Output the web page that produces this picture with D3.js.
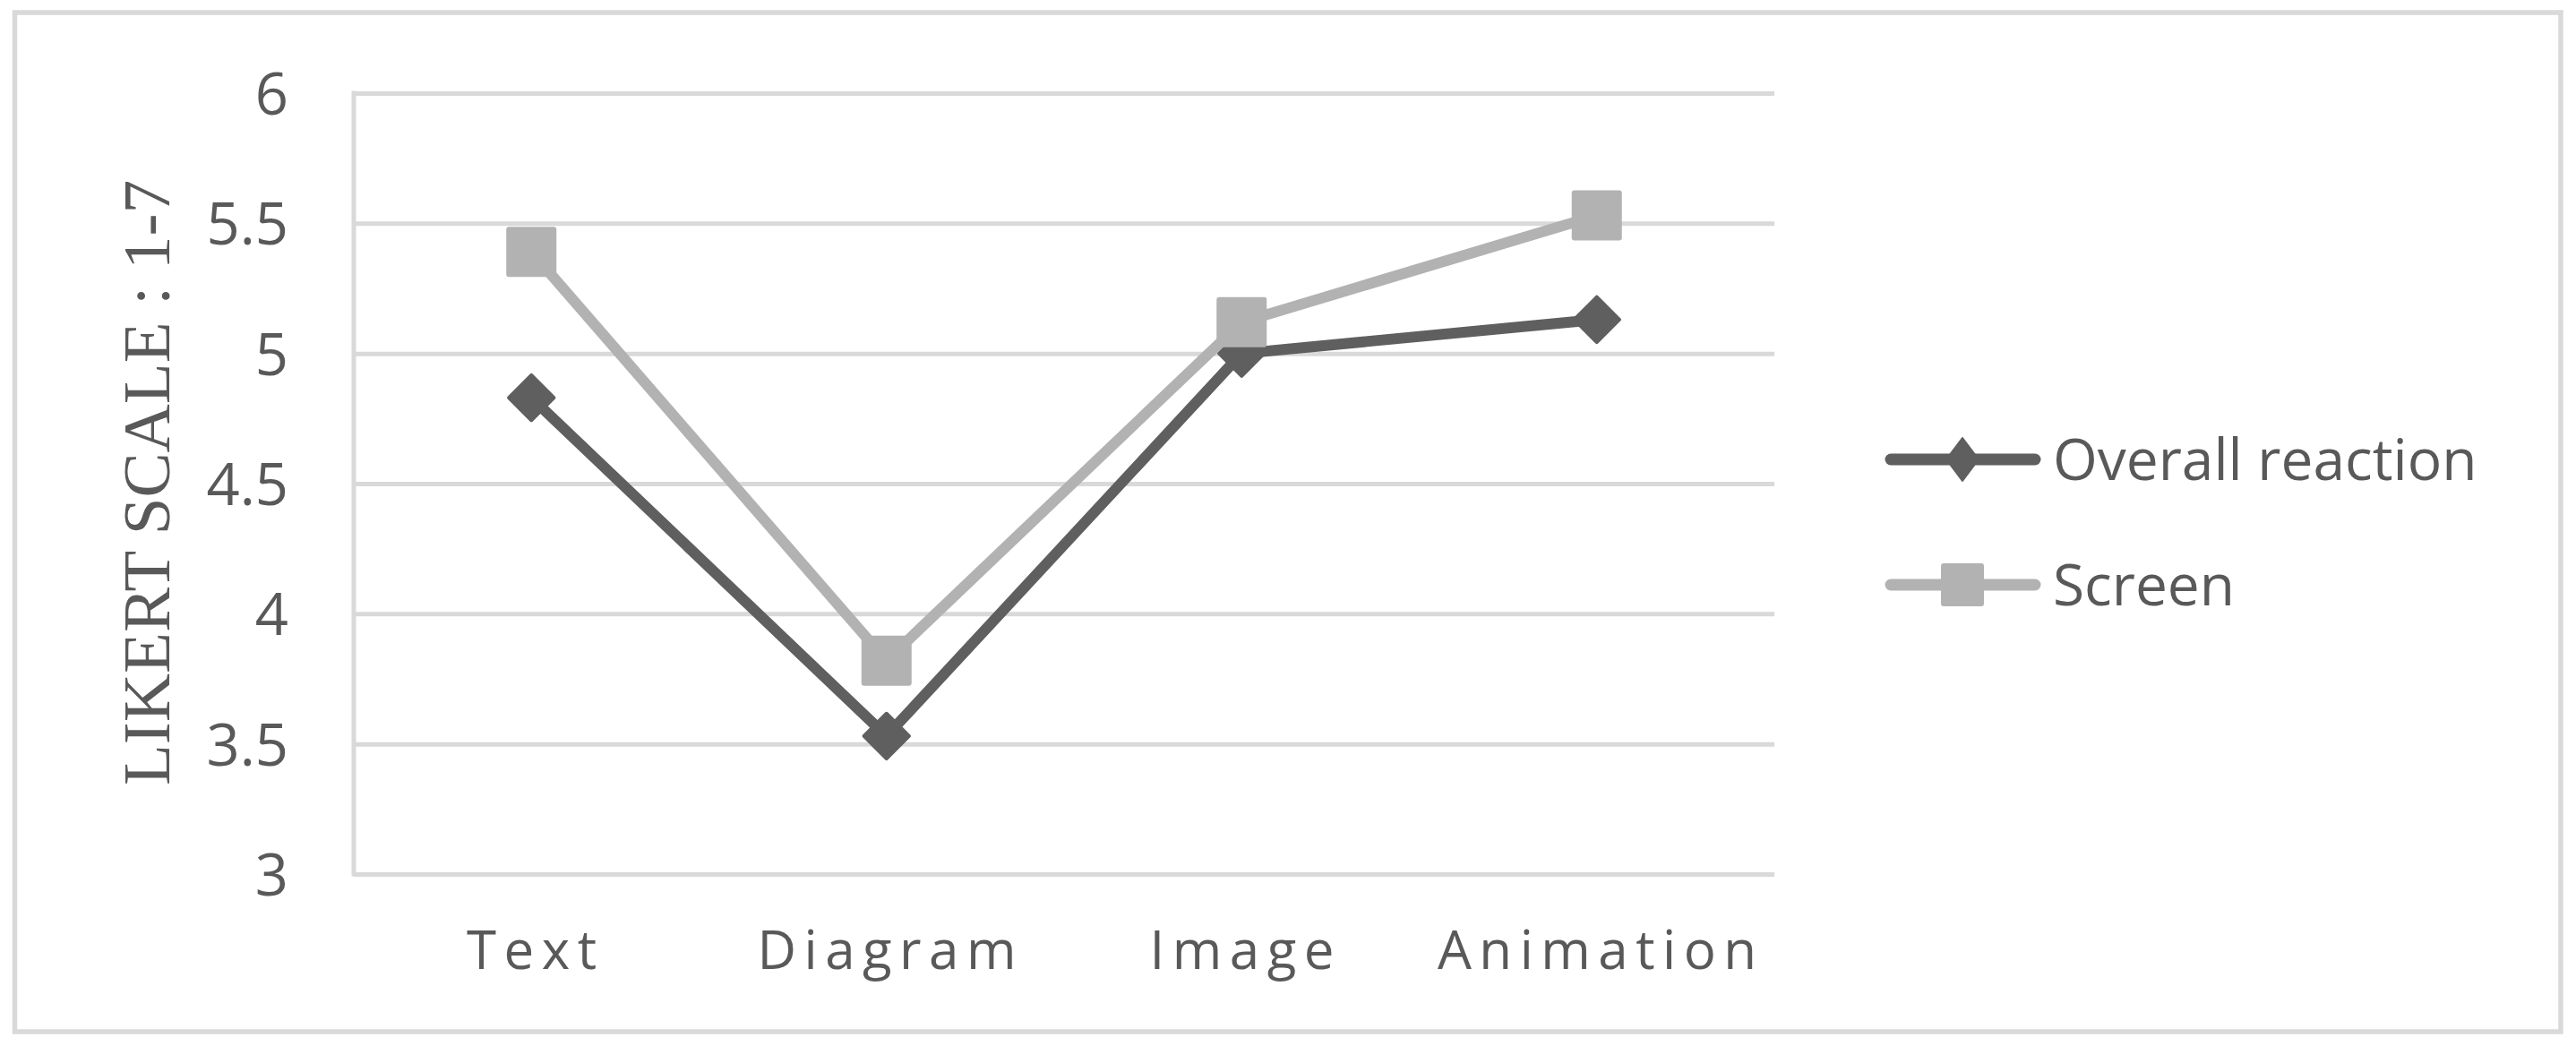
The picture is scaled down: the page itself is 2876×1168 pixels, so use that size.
<!DOCTYPE html>
<html>
<head>
<meta charset="utf-8">
<script src="https://cdn.jsdelivr.net/npm/d3@7"></script>
<style>
  html, body { margin: 0; padding: 0; background: #fff; }
  svg { display: block; }
</style>
</head>
<body>
<svg width="2876" height="1168"></svg>
<script>
const categories = ['Text', 'Diagram', 'Image', 'Animation'];
const overallReaction = [4.83, 3.53, 5.0, 5.13];
const screenValues = [5.39, 3.82, 5.12, 5.53];
const yTicks = [3, 3.5, 4, 4.5, 5, 5.5, 6];
const seriesNames = ['Overall reaction', 'Screen'];

const svg = d3.select('svg');
const textColor = '#595959';
const gridColor = '#d9d9d9';
const darkColor = '#5f5f5f';
const lightColor = '#b2b2b2';

// outer chart border
svg.append('rect')
  .attr('x', 16.5).attr('y', 14)
  .attr('width', 2842.5).attr('height', 1138)
  .attr('fill', '#fff')
  .attr('stroke', gridColor)
  .attr('stroke-width', 5.5);

const plotLeft = 395, plotRight = 1981, plotTop = 104, plotBottom = 976;
const width = plotRight - plotLeft, height = plotBottom - plotTop;

const chart = svg.append('g')
  .attr('transform', `translate(${plotLeft}, ${plotTop})`);

const xScale = d3.scalePoint()
  .domain(categories)
  .range([0, width])
  .padding(0.5);

const yScale = d3.scaleLinear()
  .domain([3, 6])
  .range([height, 0]);

// gridlines + y labels
const yAxis = chart.append('g')
  .call(d3.axisLeft(yScale)
    .tickValues(yTicks)
    .tickSize(-width)
    .tickPadding(73)
    .tickFormat(d3.format('')));

yAxis.select('.domain').remove();
yAxis.selectAll('line')
  .attr('stroke', gridColor)
  .attr('stroke-width', 5);
yAxis.selectAll('text')
  .attr('fill', textColor)
  .attr('font-family', '"Open Sans", sans-serif')
  .attr('font-size', 65)
  .attr('dy', '0.36em');

// left axis line
chart.append('line')
  .attr('x1', 0).attr('x2', 0)
  .attr('y1', -2.5).attr('y2', height + 2.5)
  .attr('stroke', gridColor)
  .attr('stroke-width', 5);

// x labels
const xAxis = chart.append('g')
  .attr('transform', `translate(0, ${height})`)
  .call(d3.axisBottom(xScale).tickSize(0));

xAxis.select('.domain').remove();
xAxis.selectAll('text')
  .attr('y', 106)
  .attr('dy', 0)
  .attr('dx', 4)
  .attr('fill', textColor)
  .attr('font-family', '"Open Sans", sans-serif')
  .attr('font-size', 60)
  .attr('letter-spacing', 8.5);

const line = d3.line()
  .x((d, i) => xScale(categories[i]))
  .y((d) => yScale(d));

// Overall reaction
chart.append('path')
  .datum(overallReaction)
  .attr('fill', 'none')
  .attr('stroke', darkColor)
  .attr('stroke-width', 12)
  .attr('stroke-linejoin', 'round')
  .attr('d', line);

chart.selectAll('.diamond')
  .data(overallReaction)
  .enter()
  .append('rect')
  .attr('class', 'diamond')
  .attr('x', -19.8).attr('y', -19.8)
  .attr('width', 39.6).attr('height', 39.6)
  .attr('rx', 2)
  .attr('fill', darkColor)
  .attr('transform', (d, i) => `translate(${xScale(categories[i])}, ${yScale(d)}) rotate(45)`);

// Screen
chart.append('path')
  .datum(screenValues)
  .attr('fill', 'none')
  .attr('stroke', lightColor)
  .attr('stroke-width', 12)
  .attr('stroke-linejoin', 'round')
  .attr('d', line);

chart.selectAll('.square')
  .data(screenValues)
  .enter()
  .append('rect')
  .attr('class', 'square')
  .attr('x', (d, i) => xScale(categories[i]) - 28)
  .attr('y', (d) => yScale(d) - 28)
  .attr('width', 56).attr('height', 56)
  .attr('rx', 3)
  .attr('fill', lightColor);

// y axis title (condensed serif in the original)
svg.append('text')
  .attr('transform', 'translate(189, 539) rotate(-90)')
  .attr('text-anchor', 'middle')
  .attr('fill', textColor)
  .attr('font-family', '"Liberation Serif", "Times New Roman", serif')
  .attr('font-size', 74)
  .attr('textLength', 676)
  .attr('lengthAdjust', 'spacingAndGlyphs')
  .text('LIKERT SCALE : 1-7');

// legend
const legend = svg.append('g');
const legendY = [513, 653];
const legendColors = [darkColor, lightColor];

seriesNames.forEach((name, i) => {
  const g = legend.append('g').attr('transform', `translate(0, ${legendY[i]})`);
  g.append('line')
    .attr('x1', 2111).attr('x2', 2272)
    .attr('stroke', legendColors[i])
    .attr('stroke-width', 13)
    .attr('stroke-linecap', 'round');
  if (i === 0) {
    g.append('path')
      .attr('d', 'M2191,-24 L2209,0 L2191,24 L2173,0 Z')
      .attr('fill', darkColor)
      .attr('stroke', darkColor)
      .attr('stroke-width', 2)
      .attr('stroke-linejoin', 'round');
  } else {
    g.append('rect')
      .attr('x', 2167).attr('y', -24)
      .attr('width', 48).attr('height', 48)
      .attr('rx', 3)
      .attr('fill', lightColor);
  }
  g.append('text')
    .attr('x', 2292)
    .attr('y', 23)
    .attr('fill', textColor)
    .attr('font-family', '"Open Sans", sans-serif')
    .attr('font-size', 64)
    .text(name);
});
</script>
</body>
</html>
